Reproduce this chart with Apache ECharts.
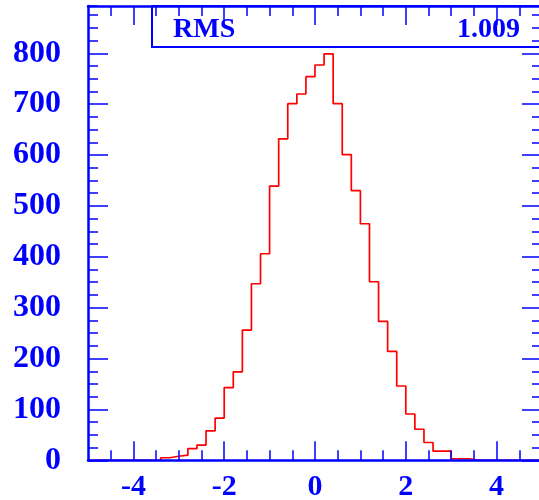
<!DOCTYPE html>
<html>
<head>
<meta charset="utf-8">
<script src="https://cdn.jsdelivr.net/npm/echarts@6/dist/echarts.min.js"></script>
<style>
  html, body { margin: 0; padding: 0; background: #ffffff; }
  #chart { width: 539px; height: 500px; }
</style>
</head>
<body>
<div id="chart"></div>
<script>
// Histogram definition: 50 bins of width 0.2 on [-5, 5]
const histMin = -5;
const histMax = 5;
const binWidth = 0.2;
const binCounts = [
  0, 0, 0, 0, 0, 0, 0, 0,
  5, 8, 10, 23, 30, 58, 83, 143, 174, 256, 347, 406,
  539, 632, 701, 720, 754, 777, 799, 701, 601, 530,
  465, 351, 273, 214, 146, 91, 61, 35, 18, 18,
  3, 3,
  0, 0, 0, 0, 0, 0, 0, 0
];

// Axis ticks and labels
const xMajorTicks = [-4, -2, 0, 2, 4];
const xMinorTicks = [-4.5, -4, -3.5, -3, -2.5, -2, -1.5, -1, -0.5, 0,
                     0.5, 1, 1.5, 2, 2.5, 3, 3.5, 4, 4.5];
const yMajorTicks = [0, 100, 200, 300, 400, 500, 600, 700, 800];
const yMinorStep = 25;
const yMax = 893;

// Statistics box
const statName = 'RMS';
const statValue = '1.009';

const frameBlue = '#0000ff';
const histRed = '#ff0000';
const serif = '"Liberation Serif", "DejaVu Serif", serif';

// Step outline: each bin's low edge with its count, closed at the upper edge
const outline = binCounts.map((c, i) => [histMin + i * binWidth, c]);
outline.push([histMax, binCounts[binCounts.length - 1]]);

// Three grids share the same rectangle: grid 0 carries the frame and the
// short ticks, grid 1 the long ticks and the labels, grid 2 the histogram.
const plotRect = { left: 88, right: -3, top: 6, bottom: 39.7, outerBoundsMode: 'none', containLabel: false };

function frameLine(show, onZero) {
  return { show: show, onZero: !!onZero, lineStyle: { color: frameBlue, width: 2.5 } };
}
function xAxisDef(grid, pos, opts) {
  return Object.assign({
    gridIndex: grid, type: 'value', position: pos, min: histMin, max: histMax, z: 5,
    splitLine: { show: false },
    axisLine: frameLine(false),
    axisLabel: { show: false }
  }, opts);
}
function yAxisDef(grid, pos, opts) {
  return Object.assign({
    gridIndex: grid, type: 'value', position: pos, min: 0, max: yMax, z: 5,
    splitLine: { show: false },
    axisLine: frameLine(false),
    axisLabel: { show: false }
  }, opts);
}

const tickStyle = { color: frameBlue, width: 1.5 };
const shortTickX = { show: true, inside: true, length: 10, customValues: xMinorTicks, lineStyle: tickStyle };
const shortTickY = { show: true, inside: true, length: 10, lineStyle: tickStyle };
const longTickX = { show: true, inside: true, length: 19, customValues: xMajorTicks, lineStyle: tickStyle };
const longTickY = { show: true, inside: true, length: 20, customValues: yMajorTicks, lineStyle: tickStyle };

const chart = echarts.init(document.getElementById('chart'), null, { renderer: 'canvas' });

chart.setOption({
  animation: false,
  backgroundColor: '#ffffff',
  grid: [Object.assign({}, plotRect), Object.assign({}, plotRect), Object.assign({}, plotRect)],
  xAxis: [
    // bottom frame sits on y = 0, which is the lower edge of the plot
    xAxisDef(0, 'bottom', { axisLine: frameLine(true, true), axisTick: shortTickX }),
    xAxisDef(0, 'top', { axisLine: frameLine(true), axisTick: shortTickX }),
    xAxisDef(1, 'bottom', {
      axisTick: longTickX,
      axisLabel: {
        show: true, customValues: xMajorTicks, margin: 12,
        color: frameBlue, fontFamily: serif, fontWeight: 'bold', fontSize: 30,
        formatter: v => String(v)
      }
    }),
    xAxisDef(1, 'top', { axisTick: longTickX }),
    xAxisDef(2, 'bottom', { show: false, axisTick: { show: false } })
  ],
  yAxis: [
    yAxisDef(0, 'left', { interval: yMinorStep, axisLine: frameLine(true), axisTick: shortTickY }),
    yAxisDef(0, 'right', { interval: yMinorStep, axisLine: frameLine(true), axisTick: shortTickY }),
    yAxisDef(1, 'left', {
      axisTick: longTickY,
      axisLabel: {
        show: true, customValues: yMajorTicks, margin: 27, padding: [3, 0, 0, 0],
        color: frameBlue, fontFamily: serif, fontWeight: 'bold', fontSize: 32
      }
    }),
    yAxisDef(1, 'right', { axisTick: longTickY }),
    yAxisDef(2, 'left', { show: false, axisTick: { show: false } })
  ],
  series: [{
    type: 'line',
    xAxisIndex: 4,
    yAxisIndex: 4,
    step: 'end',
    showSymbol: false,
    data: outline,
    z: 2,
    lineStyle: { color: histRed, width: 1.7 }
  }],
  graphic: [
    {
      type: 'rect', z: 10,
      shape: { x: 152, y: 6, width: 400, height: 41 },
      style: { fill: 'none', stroke: frameBlue, lineWidth: 2 }
    },
    {
      type: 'text', z: 10, x: 173, y: 30,
      style: {
        text: statName, fill: frameBlue, font: 'bold 28px ' + serif,
        verticalAlign: 'middle', align: 'left'
      }
    },
    {
      type: 'text', z: 10, x: 520, y: 30,
      style: {
        text: statValue, fill: frameBlue, font: 'bold 28px ' + serif,
        verticalAlign: 'middle', align: 'right'
      }
    }
  ]
});
</script>
</body>
</html>
